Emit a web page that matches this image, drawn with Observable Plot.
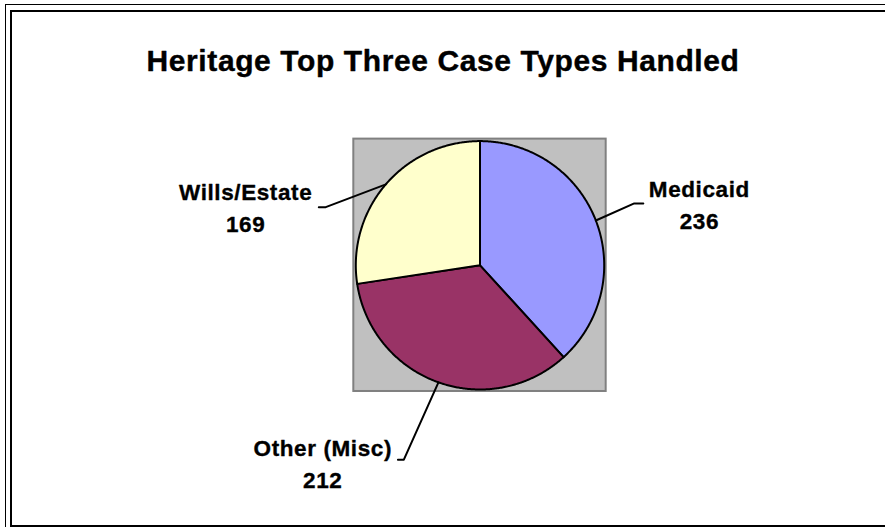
<!DOCTYPE html>
<html><head><meta charset="utf-8">
<script src="https://cdn.jsdelivr.net/npm/d3@7"></script>
<script src="https://cdn.jsdelivr.net/npm/@observablehq/plot@0.6"></script>
<style>
html,body{margin:0;padding:0;background:#fff;width:885px;height:527px;overflow:hidden;}
#wrap{position:relative;width:885px;height:527px;overflow:hidden;background:#fff;}
#outer{position:absolute;left:5px;top:4px;width:2000px;height:2000px;border:1.6px solid #000;box-sizing:border-box;z-index:2;pointer-events:none;}
#inner{position:absolute;left:10px;top:10px;width:2000px;height:517px;border:2.5px solid #000;box-sizing:border-box;z-index:2;pointer-events:none;}
#chart{position:absolute;left:0;top:0;z-index:1;}
#chart svg text{letter-spacing:0.6px;}
</style>
</head><body>
<div id="wrap"><div id="outer"></div><div id="inner"></div><div id="chart"></div></div>
<script>
// ---- data ----
const title = "Heritage Top Three Case Types Handled";
const categories = ["Medicaid", "Other (Misc)", "Wills/Estate"];
const values = [236, 212, 169];
const colors = ["#9999FF", "#993366", "#FFFFCC"];

// ---- layout (in pie-radius units) ----
const labelPos = [
  {x: 1.766, y: 0.505},
  {x: -1.266, y: -1.578},
  {x: -1.887, y: 0.482}
];
const leaderElbow = [
  {x: 1.242, y: 0.498, endX: 1.315},
  {x: -0.613, y: -1.565, endX: -0.661},
  {x: -1.242, y: 0.468, endX: -1.298}
];
const pad = 1.016;
const cx = 479.5, cy = 264.8, R = 124.2;

const arcs = d3.pie().sort(null).value(d => d)(values);

const slices = arcs.map((a, i) => {
  const pts = [{x: 0, y: 0}];
  const n = Math.max(2, Math.ceil((a.endAngle - a.startAngle) / (Math.PI / 360)));
  for (let k = 0; k <= n; k++) {
    const t = a.startAngle + (a.endAngle - a.startAngle) * k / n;
    pts.push({x: Math.sin(t), y: Math.cos(t)});
  }
  pts.push({x: 0, y: 0});
  return pts;
});

const leaders = arcs.flatMap((a, i) => {
  const m = (a.startAngle + a.endAngle) / 2;
  const e = leaderElbow[i];
  return [
    {cat: categories[i], x: Math.sin(m), y: Math.cos(m)},
    {cat: categories[i], x: e.x, y: e.y},
    {cat: categories[i], x: e.endX, y: e.y}
  ];
});

const labels = categories.map((c, i) => ({cat: c, value: values[i], x: labelPos[i].x, y: labelPos[i].y}));

const font = "'Liberation Sans', Arial, sans-serif";

const chart = Plot.plot({
  width: 885,
  height: 527,
  margin: 0,
  x: {domain: [-cx / R, (885 - cx) / R], axis: null},
  y: {domain: [(cy - 527) / R, cy / R], axis: null},
  style: {background: "transparent", fontFamily: font},
  marks: [
    Plot.rect([{x1: -pad, x2: pad, y1: -pad, y2: pad}], {x1: "x1", x2: "x2", y1: "y1", y2: "y2", fill: "#C0C0C0", stroke: "#808080", strokeWidth: 2}),
    ...slices.map((pts, i) => Plot.line(pts, {x: "x", y: "y", fill: colors[i], stroke: "#000", strokeWidth: 2, strokeLinejoin: "round"})),
    Plot.line(leaders, {x: "x", y: "y", z: "cat", stroke: "#000", strokeWidth: 2}),
    Plot.text(labels, {x: "x", y: "y", text: d => `${d.cat}\n${d.value}`, fontSize: 22.5, fontWeight: "bold", lineHeight: 32 / 22.5, lineAnchor: "middle", textAnchor: "middle", fill: "#000", stroke: "#000", strokeWidth: 0.35}),
    Plot.text([title], {text: d => d, frameAnchor: "top", dy: 49, fontSize: 30, fontWeight: "bold", fill: "#000", stroke: "#000", strokeWidth: 0.4})
  ]
});
document.getElementById("chart").appendChild(chart);
</script>
</body></html>
